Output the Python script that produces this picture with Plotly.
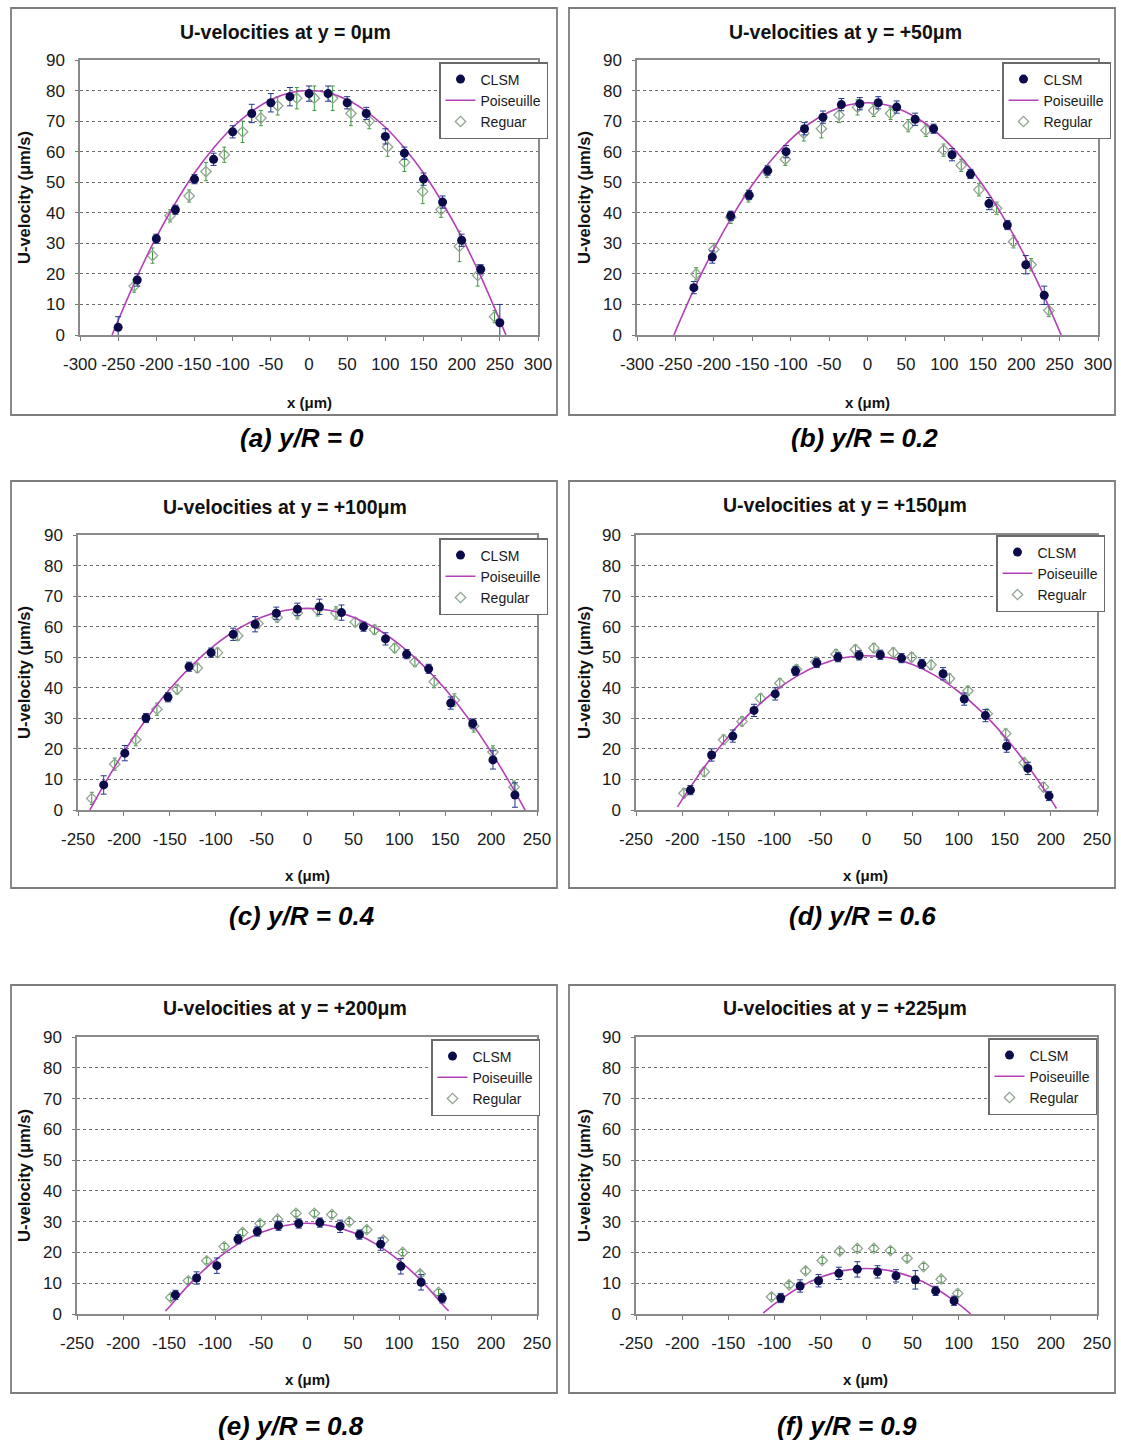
import plotly.graph_objects as go

# ---------------- DATA ----------------
a_clsm_x = [-250,-225,-200,-175,-150,-125,-100,-75,-50,-25,0,25,50,75,100,125,150,175,200,225,250]
a_clsm_u = [2.5,18,31.5,41,51,57.5,66.5,72.5,76,78,79,79,76,72.5,65,59.5,51,43.5,31,21.5,4]
a_clsm_err = [3.5,2,1.5,1.5,1.5,2,2,3,3,3,2.5,2.5,2,2,2.5,2,2,2,2,1.5,6]
a_reg_x = [-229,-205,-182,-157,-135,-111,-87,-63,-41,-16,7,31,55,79,103,125,149,173,197,221,243]
a_reg_u = [16,26,39,45.5,53.5,59,66.5,71,75,77.5,77.5,77.5,72.5,70,61.5,56.5,47,41,29,19.5,6]
a_reg_err = [2,2.5,2,2,3,2.5,3.5,2.5,3,3.5,4,4,4,2.5,3,3,4,2.5,5,3.5,2]
a_pois_x = [-258,-250,-225,-200,-175,-150,-125,-100,-75,-50,-25,0,25,50,75,100,125,150,175,200,225,250,258]
a_pois_u = [0,4.8,19.2,32,43.2,53,61.2,68,73.2,77,79.3,80,79.3,77,73.2,68,61.2,53,43.2,32,19.2,4.8,0]

b_clsm_x = [-226,-202,-178,-154,-130,-106,-82,-58,-34,-10,14,38,62,86,110,134,158,182,206,230]
b_clsm_u = [15.5,25.5,39,45.8,53.8,60,67.5,71.3,75.4,75.7,76,74.6,70.6,67.5,59,52.7,43,36,23,13]
b_clsm_err = [2,2,1.5,1.5,1.5,2,2,2,2,2,2,2,2,1.5,2,1.5,2,1.5,3,3]
b_reg_x = [-223,-200,-178,-155,-131,-107,-83,-60,-37,-13,8,30,53,76,99,122,145,168,190,213,236]
b_reg_u = [20,28,38.5,45.5,53.5,57.5,66,67.5,72,74.5,73.5,72.5,68.5,67,60.5,55.5,47.5,41.5,30.5,23,8]
b_reg_err = [2,2,2,2,2,2,2.5,3,2.5,2.5,2,2,2,2,2,2,2,2,2,2,2]
b_pois_x = [-252,-250,-225,-200,-175,-150,-125,-100,-75,-50,-25,0,25,50,75,100,125,150,175,200,225,250,252]
b_pois_u = [0,1.2,15.4,28.1,39.3,49.1,57.3,64,69.3,73,75.3,76,75.3,73,69.3,64,57.3,49.1,39.3,28.1,15.4,1.2,0]

c_clsm_x = [-222,-199,-176,-152,-129,-105,-81,-57,-34,-11,13,37,61,85,108,132,156,180,202,226]
c_clsm_u = [8.2,18.6,30.1,36.9,46.9,51.5,57.5,60.8,64.4,65.7,66.5,64.6,60,56,51,46.2,35,28.3,16.4,4.9]
c_clsm_err = [3,2.5,1.5,1.5,1.5,1.5,2,2.5,2,2,2.5,2.5,1.5,2,1.5,1.5,2,1.5,3,4]
c_reg_x = [-235,-210,-187,-164,-142,-120,-98,-76,-54,-33,-11,11,31,52,73,95,117,138,160,181,202,225]
c_reg_u = [3.8,15,23,33,39.5,46.5,51.5,57,61,63,64.5,65.5,64.5,61.5,59,53,48.5,42,36,27.5,19,7.5]
c_reg_err = [2,2,2,2,1.5,1.5,1.5,1.5,1.5,1.5,2,2,2,1.5,1.5,1.5,1.5,2,2,2,2,2]
c_pois_x = [-237,-225,-200,-175,-150,-125,-100,-75,-50,-25,0,25,50,75,100,125,150,175,200,225,237]
c_pois_u = [0,6.5,19,30,39.6,47.6,54.2,59.4,63.1,65.3,66,65.3,63.1,59.4,54.2,47.6,39.6,30,19,6.5,0]

d_clsm_x = [-191,-168,-145,-122,-99,-77,-54,-31,-8,15,38,60,83,106,129,152,175,198]
d_clsm_u = [6.5,18,24.2,32.6,38,45.5,48.1,50,50.6,50.8,49.7,47.8,44.6,36.3,30.9,20.9,13.6,4.6]
d_clsm_err = [1.5,2,2,2,2,1.5,1.5,1.5,1.5,1.5,1.5,1.5,2,2,2,2,2,1.5]
d_reg_x = [-198,-176,-155,-135,-115,-94,-76,-55,-33,-12,8,29,49,70,90,110,131,151,171,192]
d_reg_u = [5.5,12.5,23,29,36.5,41.5,46,48.5,51,52.5,53,51.5,50,47.5,43,39,31.5,25,15.5,7.5]
d_reg_err = [1.5,1.5,1.5,1.5,1.5,1.5,1.5,1.5,1.5,1.5,1.5,1.5,1.5,1.5,1.5,1.5,1.5,1.5,1.5,1.5]
d_pois_x = [-205,-200,-175,-150,-125,-100,-75,-50,-25,0,25,50,75,100,125,150,175,200,206]
d_pois_u = [1,3.4,14.4,24,32.1,38.7,43.9,47.6,49.8,50.5,49.8,47.6,43.9,38.7,32.1,24,14.4,3.4,0.5]

e_clsm_x = [-143,-120,-98,-75,-54,-31,-9,14,36,57,80,102,124,147]
e_clsm_u = [6.2,11.7,15.7,24.3,26.8,28.7,29.4,29.7,28.5,25.8,22.7,15.5,10.3,5.1]
e_clsm_err = [1.5,2,2.5,1.5,1.5,1.5,1.5,1.5,2,1.5,2,2.5,2.5,1.5]
e_reg_x = [-148,-129,-109,-90,-70,-51,-32,-12,8,27,46,65,83,104,123,143]
e_reg_u = [5.4,10.8,17.3,21.9,26.5,29.4,30.8,32.7,32.7,32.3,30,27.4,24,20,13,7]
e_reg_err = [1,1,1,1,1,1,1,1,1,1,1,1,1,1,1,1]
e_pois_x = [-154,-150,-125,-100,-75,-50,-25,0,25,50,75,100,125,150,154]
e_pois_u = [1,2.2,10.6,17.4,22.7,26.5,28.7,29.5,28.7,26.5,22.7,17.4,10.6,2.2,1]

f_clsm_x = [-93,-72,-52,-30,-10,12,32,53,75,95]
f_clsm_u = [5.2,9.1,10.8,13.2,14.5,13.7,12.4,11.1,7.5,4.3]
f_clsm_err = [1.5,2,2,2,2.5,2,2,3,1.5,1.5]
f_reg_x = [-103,-84,-66,-48,-29,-10,8,26,44,62,81,99]
f_reg_u = [5.6,9.5,14,17.4,20.4,21.3,21.3,20.6,18.1,15.4,11.3,6.7]
f_reg_err = [1,1,1,1,1,1,1,1,1,1,1,1]
f_pois_x = [-112,-100,-75,-50,-25,0,25,50,75,100,113]
f_pois_u = [0.3,3.2,8.3,11.9,14.1,14.8,14.1,11.9,8.3,3.2,0]

titles = ["U-velocities at y = 0μm", "U-velocities at y = +50μm", "U-velocities at y = +100μm",
          "U-velocities at y = +150μm", "U-velocities at y = +200μm", "U-velocities at y = +225μm"]
captions = ["(a) y/R = 0", "(b) y/R = 0.2", "(c) y/R = 0.4", "(d) y/R = 0.6", "(e) y/R = 0.8", "(f) y/R = 0.9"]
legend_names = [["CLSM", "Poiseuille", "Reguar"], ["CLSM", "Poiseuille", "Regular"],
                ["CLSM", "Poiseuille", "Regular"], ["CLSM", "Poiseuille", "Regualr"],
                ["CLSM", "Poiseuille", "Regular"], ["CLSM", "Poiseuille", "Regular"]]
x_ticks_300 = [-300, -250, -200, -150, -100, -50, 0, 50, 100, 150, 200, 250, 300]
x_ticks_250 = [-250, -200, -150, -100, -50, 0, 50, 100, 150, 200, 250]
x_ticktext_300 = ["-300", "-250", "-200", "-150", "-100", "-50", "0", "50", "100", "150", "200", "250", "300"]
x_ticktext_250 = ["-250", "-200", "-150", "-100", "-50", "0", "50", "100", "150", "200", "250"]
y_ticks = [0, 10, 20, 30, 40, 50, 60, 70, 80, 90]
x_label = "x (μm)"
y_label = "U-velocity (μm/s)"

series = [
    (a_clsm_x, a_clsm_u, a_clsm_err, a_reg_x, a_reg_u, a_reg_err, a_pois_x, a_pois_u),
    (b_clsm_x, b_clsm_u, b_clsm_err, b_reg_x, b_reg_u, b_reg_err, b_pois_x, b_pois_u),
    (c_clsm_x, c_clsm_u, c_clsm_err, c_reg_x, c_reg_u, c_reg_err, c_pois_x, c_pois_u),
    (d_clsm_x, d_clsm_u, d_clsm_err, d_reg_x, d_reg_u, d_reg_err, d_pois_x, d_pois_u),
    (e_clsm_x, e_clsm_u, e_clsm_err, e_reg_x, e_reg_u, e_reg_err, e_pois_x, e_pois_u),
    (f_clsm_x, f_clsm_u, f_clsm_err, f_reg_x, f_reg_u, f_reg_err, f_pois_x, f_pois_u),
]
x_ticks = [(x_ticks_300, x_ticktext_300), (x_ticks_300, x_ticktext_300),
           (x_ticks_250, x_ticktext_250), (x_ticks_250, x_ticktext_250),
           (x_ticks_250, x_ticktext_250), (x_ticks_250, x_ticktext_250)]

# ---------------- LAYOUT GEOMETRY (pixels) ----------------
W, H = 1121, 1447
FONT = "Liberation Sans, Arial, Helvetica, sans-serif"

geom = [
    dict(plot=(80, 60, 538, 335), box=(11, 8, 557, 415), title=(285, 32), xlab=(309, 402), ylab=(24, 198), cap=(302, 438), leg=(439, 62)),
    dict(plot=(637, 60, 1098, 335), box=(569, 8, 1115, 415), title=(845, 32), xlab=(867, 402), ylab=(584, 198), cap=(864, 438), leg=(1002, 62)),
    dict(plot=(78, 535, 537, 810), box=(11, 481, 557, 888), title=(285, 507), xlab=(307, 875), ylab=(24, 673), cap=(302, 916), leg=(439, 538)),
    dict(plot=(636, 535, 1097, 810), box=(569, 481, 1115, 888), title=(845, 505), xlab=(866, 875), ylab=(584, 673), cap=(862, 916), leg=(996, 535)),
    dict(plot=(77, 1037, 537, 1314), box=(11, 985, 557, 1393), title=(285, 1008), xlab=(307, 1379), ylab=(24, 1176), cap=(291, 1426), leg=(431, 1039)),
    dict(plot=(636, 1037, 1097, 1314), box=(569, 985, 1115, 1393), title=(845, 1008), xlab=(866, 1379), ylab=(584, 1176), cap=(847, 1426), leg=(988, 1038)),
]

def px(x):
    return x / W

def py(y):
    return 1 - y / H

fig = go.Figure()
annotations = []
shapes = []
layout_axes = {}
legends = {}

for i, (g, s) in enumerate(zip(geom, series)):
    n = i + 1
    xa = "x" if n == 1 else f"x{n}"
    ya = "y" if n == 1 else f"y{n}"
    leg = "legend" if n == 1 else f"legend{n}"
    cx, cu, ce, rx, ru, re, px_, pu = s
    names = legend_names[i]

    fig.add_trace(go.Scatter(
        x=rx, y=ru, mode="markers", name=names[2], xaxis=xa, yaxis=ya, legend=leg,
        legendgroup=f"r{n}", legendrank=3,
        marker=dict(symbol="diamond-open", size=8, color="#93a593", line=dict(width=1.3)),
        error_y=dict(type="data", array=re, visible=True, color="#3f9a3f", thickness=1, width=2),
    ))
    fig.add_trace(go.Scatter(
        x=px_, y=pu, mode="lines", name=names[1], xaxis=xa, yaxis=ya, legend=leg,
        legendgroup=f"p{n}", legendrank=2,
        line=dict(color="#b440b8", width=1.6, shape="spline", smoothing=0.8),
    ))
    fig.add_trace(go.Scatter(
        x=cx, y=cu, mode="markers", name=names[0], xaxis=xa, yaxis=ya, legend=leg,
        legendgroup=f"c{n}", legendrank=1,
        marker=dict(symbol="circle", size=9, color="#0b0b4a"),
        error_y=dict(type="data", array=ce, visible=True, color="#26368c", thickness=1, width=3),
    ))

    x0, y0, x1, y1 = g["plot"]
    xkey = "xaxis" if n == 1 else f"xaxis{n}"
    ykey = "yaxis" if n == 1 else f"yaxis{n}"
    tv, tt = x_ticks[i]
    layout_axes[xkey] = dict(
        domain=[px(x0), px(x1)], anchor=ya, range=[tv[0], tv[-1]],
        tickmode="array", tickvals=tv, ticktext=tt, tickangle=0,
        showgrid=False, zeroline=False, showline=True, linecolor="#8a8a8a", linewidth=1.5,
        mirror=True, ticks="outside", ticklen=4, tickcolor="#7a7a7a", ticklabelstandoff=9,
        tickfont=dict(family=FONT, size=17, color="#1a1a1a"),
    )
    layout_axes[ykey] = dict(
        domain=[py(y1), py(y0)], anchor=xa, range=[y_ticks[0], y_ticks[-1]],
        tickmode="array", tickvals=y_ticks,
        showgrid=True, gridcolor="#6e6e6e", griddash="dot", gridwidth=1,
        zeroline=False, showline=True, linecolor="#8a8a8a", linewidth=1.5, mirror=True,
        ticks="outside", ticklen=3, tickcolor="#7a7a7a", ticklabelstandoff=7,
        tickfont=dict(family=FONT, size=17, color="#1a1a1a"),
    )

    lx, ly = g["leg"]
    legends[leg] = dict(
        x=px(lx), y=py(ly), xanchor="left", yanchor="top",
        bgcolor="white", bordercolor="#6a6a6a", borderwidth=1.5,
        font=dict(family=FONT, size=14, color="#1a1a1a"),
        tracegroupgap=0, itemwidth=30,
    )

    bx0, by0, bx1, by1 = g["box"]
    shapes.append(dict(type="rect", xref="paper", yref="paper", x0=px(bx0), x1=px(bx1),
                       y0=py(by1), y1=py(by0), line=dict(color="#7d7d7d", width=1.8),
                       fillcolor="rgba(0,0,0,0)", layer="below"))

    tx, ty = g["title"]
    annotations.append(dict(text=titles[i], x=px(tx), y=py(ty), xref="paper", yref="paper",
                            xanchor="center", yanchor="middle", showarrow=False,
                            font=dict(family=FONT, size=19.5, color="#111111", weight="bold")))
    xlx, xly = g["xlab"]
    annotations.append(dict(text=x_label, x=px(xlx), y=py(xly), xref="paper", yref="paper",
                            xanchor="center", yanchor="middle", showarrow=False,
                            font=dict(family=FONT, size=15, color="#111111", weight="bold")))
    ylx, yly = g["ylab"]
    annotations.append(dict(text=y_label, x=px(ylx), y=py(yly), xref="paper", yref="paper",
                            xanchor="center", yanchor="middle", showarrow=False, textangle=-90,
                            font=dict(family=FONT, size=16.5, color="#111111", weight="bold")))
    cpx, cpy = g["cap"]
    annotations.append(dict(text=f"<b><i>{captions[i]}</i></b>", x=px(cpx), y=py(cpy), xref="paper", yref="paper",
                            xanchor="center", yanchor="middle", showarrow=False,
                            font=dict(family=FONT, size=26, color="#000000")))

fig.update_layout(
    width=W, height=H, margin=dict(l=0, r=0, t=0, b=0, pad=0, autoexpand=False),
    paper_bgcolor="white", plot_bgcolor="white",
    showlegend=True, annotations=annotations, shapes=shapes,
    **layout_axes, **legends,
)

fig.write_html("out.html")
